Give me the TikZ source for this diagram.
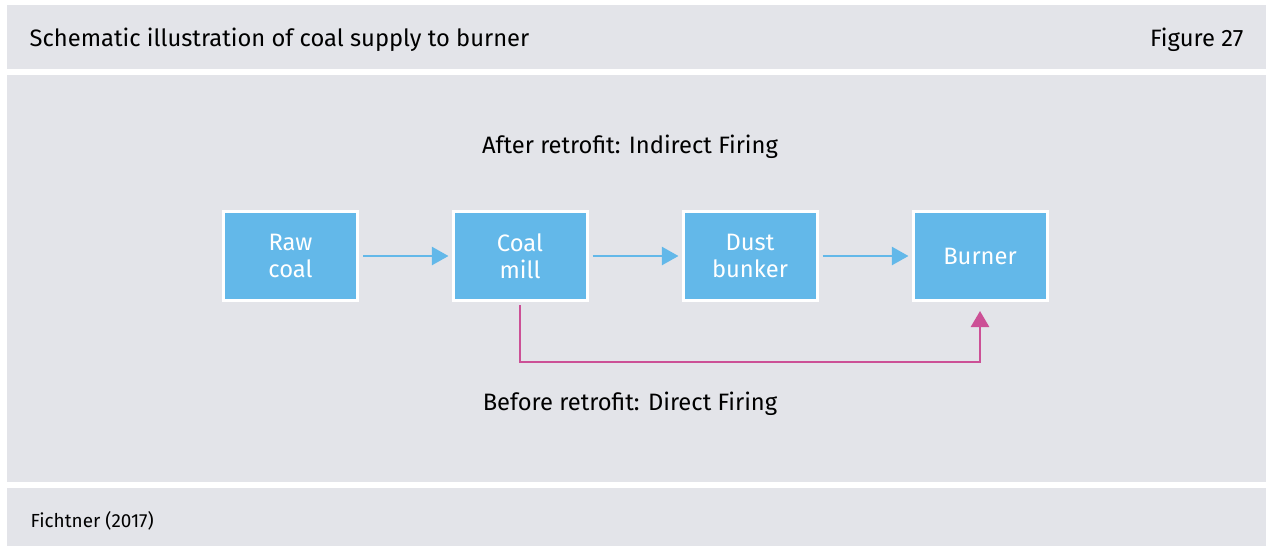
\documentclass[tikz,border=0pt]{standalone}
\usepackage{fontspec}
\setmainfont{Fira Sans}
\usepackage{tikz}
\usetikzlibrary{arrows.meta,positioning}
\definecolor{panel}{HTML}{E3E4E9}
\definecolor{boxblue}{HTML}{63B8E9}
\definecolor{magenta2}{HTML}{CC5096}

\begin{document}
\begin{tikzpicture}[
    x=0.75pt,y=-0.75pt,
    every node/.style={font=\fontsize{17.8}{20.3}\selectfont},
    stage/.style={draw=white,line width=2.25pt,fill=boxblue,text=white,
                  minimum width=100.5pt,minimum height=66.75pt,
                  align=center,inner sep=0pt},
    flow/.style={-{Triangle[length=12.5pt,width=13.5pt]},line width=2pt,boxblue,
                 shorten <=3pt,shorten >=2.25pt},
    direct/.style={-{Triangle[length=12pt,width=13.5pt]},line width=2pt,magenta2,
                   shorten <=2.25pt,shorten >=6.75pt},
  ]
    \useasboundingbox (0,0) rectangle (1266,547);
    \fill[white] (0,0) rectangle (1266,547);
    % panels
    \fill[panel] (7,5) rectangle (1266,69);
    \fill[panel] (7,75) rectangle (1266,482);
    \fill[panel] (7,488) rectangle (1266,546);

    \node[anchor=west] (title) at (25,40) {Schematic illustration of coal supply to burner};
    \node[anchor=east] (fig) at (1248,40) {Figure 27};
    \node[anchor=west,font=\fontsize{14.2}{17}\selectfont] (src) at (26,521) {Fichtner (2017)};

    \node (after) at (630,147) {After retrofit: Indirect Firing};
    \node (before) at (630,404) {Before retrofit: Direct Firing};

    \node[stage] (raw) at (290.5,256) {Raw\\coal};
    \node[stage] (mill) at (520,256) {Coal\\mill};
    \node[stage] (bunker) at (750,256) {Dust\\bunker};
    \node[stage] (burner) at (980,256) {Burner};

    \draw[flow] (raw) -- (mill);
    \draw[flow] (mill) -- (bunker);
    \draw[flow] (bunker) -- (burner);

    \coordinate (turn) at (520,362);
    \draw[direct] (mill.south) -- (turn) -| (burner.south);
\end{tikzpicture}
\end{document}
